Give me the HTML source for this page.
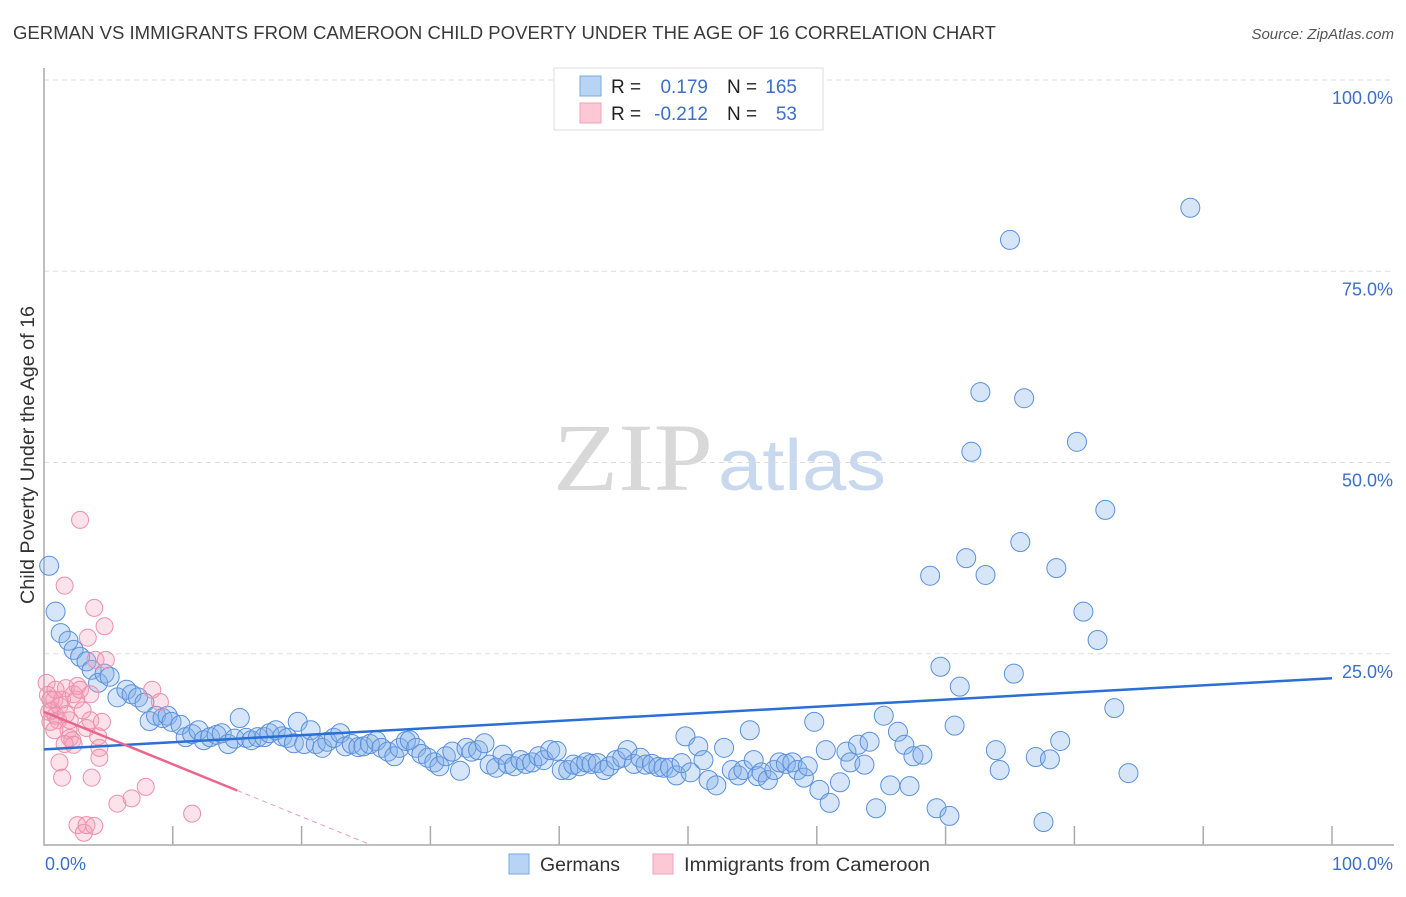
<!DOCTYPE html>
<html><head><meta charset="utf-8"><style>
body{margin:0;background:#fff;font-family:"Liberation Sans",sans-serif}
svg text{font-family:"Liberation Sans",sans-serif}
</style></head><body>
<svg id="chart" width="1406" height="892" viewBox="0 0 1406 892" xmlns="http://www.w3.org/2000/svg">
<text x="13" y="39" font-size="18" fill="#3a3a3a" textLength="983" lengthAdjust="spacingAndGlyphs">GERMAN VS IMMIGRANTS FROM CAMEROON CHILD POVERTY UNDER THE AGE OF 16 CORRELATION CHART</text>
<text x="1394" y="39" font-size="15" fill="#555" text-anchor="end" font-style="italic">Source: ZipAtlas.com</text>
<g>
<text x="553" y="490" font-size="96" fill="#d8d8d8" textLength="160" lengthAdjust="spacingAndGlyphs" style="font-family:'Liberation Serif',serif">ZIP</text>
<text x="718" y="490" font-size="72" fill="#c8d9ef" textLength="168" lengthAdjust="spacingAndGlyphs">atlas</text>
</g>
<g id="grid"></g>
<g id="axes"></g>
<g id="pts"></g>
<g id="lines"></g>
<text transform="translate(34,455) rotate(-90)" font-size="19" fill="#333" text-anchor="middle" textLength="298" lengthAdjust="spacingAndGlyphs">Child Poverty Under the Age of 16</text>
<g>
<rect x="554" y="68" width="269" height="62" fill="#fff" stroke="#ddd"/>
<rect x="580" y="76" width="21" height="20" fill="#b8d4f5" stroke="#7aa8e0"/>
<rect x="580" y="103" width="21" height="20" fill="#fcc8d6" stroke="#f0a0b8"/>
<text x="611" y="93" font-size="19" fill="#222">R =</text>
<text x="708" y="93" font-size="19" fill="#3b6fc9" text-anchor="end">0.179</text>
<text x="727" y="93" font-size="19" fill="#222">N =</text>
<text x="797" y="93" font-size="19" fill="#3b6fc9" text-anchor="end">165</text>
<text x="611" y="120" font-size="19" fill="#222">R =</text>
<text x="708" y="120" font-size="19" fill="#3b6fc9" text-anchor="end">-0.212</text>
<text x="727" y="120" font-size="19" fill="#222">N =</text>
<text x="797" y="120" font-size="19" fill="#3b6fc9" text-anchor="end">53</text>
</g>
<g>
<rect x="509" y="854" width="20" height="20" fill="#b8d4f5" stroke="#7aa8e0"/>
<text x="540" y="871" font-size="19" fill="#333" textLength="80" lengthAdjust="spacingAndGlyphs">Germans</text>
</g>
<g>
<rect x="653" y="854" width="20" height="20" fill="#fcc8d6" stroke="#f0a0b8"/>
<text x="684" y="871" font-size="19" fill="#333" textLength="246" lengthAdjust="spacingAndGlyphs">Immigrants from Cameroon</text>
</g>
</svg>
<script>
const blueX=[0.4,0.9,1.3,1.9,2.3,2.8,3.3,3.7,4.2,4.7,5.1,5.7,6.4,6.8,7.3,7.8,8.2,8.7,9.2,9.6,9.9,10.6,11.0,11.5,12.0,12.4,12.9,13.4,13.8,14.3,14.8,15.2,15.7,16.1,16.6,17.1,17.5,18.0,18.5,18.9,19.4,19.7,20.2,20.7,21.1,21.6,22.0,22.5,23.0,23.4,23.9,24.4,24.8,25.3,25.8,26.2,26.7,27.2,27.6,28.1,28.4,28.9,29.3,29.8,30.3,30.7,31.2,31.7,32.3,32.8,33.2,33.7,34.2,34.6,35.1,35.6,36.0,36.5,37.0,37.4,37.9,38.4,38.8,39.3,39.8,40.2,40.7,41.1,41.6,42.1,42.5,43.0,43.5,43.9,44.4,44.9,45.3,45.8,46.3,46.7,47.2,47.7,48.1,48.6,49.1,49.5,49.8,50.2,50.8,51.2,51.6,52.2,52.8,53.4,53.9,54.3,54.8,55.1,55.4,55.7,56.2,56.7,57.1,57.6,58.1,58.5,59.0,59.3,59.8,60.2,60.7,61.0,61.8,62.3,62.6,63.2,63.7,64.1,64.6,65.2,65.7,66.3,66.8,67.2,67.5,68.2,68.8,69.3,69.6,70.3,70.7,71.1,71.6,72.0,72.7,73.1,73.9,74.2,75.0,75.3,75.8,76.1,77.0,77.6,78.1,78.6,78.9,80.2,80.7,81.8,82.4,83.1,84.2,89.0];
const blueY=[36.5,30.5,27.7,26.7,25.5,24.6,24.0,22.9,21.2,22.4,22.0,19.3,20.3,19.7,19.3,18.6,16.2,16.9,16.6,16.9,16.1,15.7,14.1,14.5,15.0,13.7,14.1,14.4,14.6,13.2,13.9,16.6,14.0,13.7,14.1,14.1,14.6,15.0,14.2,14.0,13.3,16.1,13.2,15.0,13.2,12.7,13.5,14.0,14.6,12.9,13.2,12.8,12.9,13.2,13.6,12.7,12.2,11.6,12.7,13.6,13.7,12.7,11.9,11.4,10.8,10.3,11.6,12.2,9.7,12.7,12.2,12.4,13.3,10.5,10.1,11.8,10.6,10.3,11.1,10.6,10.8,11.6,11.1,12.4,12.3,9.8,9.8,10.5,10.3,10.8,10.6,10.7,9.8,10.3,11.1,11.4,12.4,10.6,11.4,10.5,10.6,10.2,10.1,10.1,9.1,10.7,14.2,9.5,12.9,11.1,8.5,7.8,12.7,9.8,9.1,9.8,15.0,11.1,9.0,9.5,8.5,9.8,10.8,10.6,10.8,9.8,8.8,10.3,16.1,7.2,12.4,5.5,8.2,12.2,10.8,13.1,10.5,13.5,4.8,16.9,7.8,14.8,13.1,7.7,11.6,11.8,35.2,4.8,23.3,3.8,15.6,20.7,37.5,51.4,59.2,35.3,12.4,9.8,79.1,22.4,39.6,58.4,11.5,3.0,11.2,36.2,13.6,52.7,30.5,26.8,43.8,17.9,9.4,83.3];
const pinkX=[0.2,0.3,0.4,0.5,0.6,0.8,0.9,1.1,1.2,1.4,1.6,1.7,1.9,2.0,2.2,2.3,2.5,2.6,2.8,3.0,3.3,3.4,3.6,3.7,3.9,4.0,4.2,4.3,4.3,4.5,4.7,4.8,2.6,3.1,3.3,3.9,5.7,6.8,7.9,8.4,9.0,11.5,1.2,1.4,0.9,2.0,2.3,1.7,2.8,3.6,0.8,1.6,0.5];
const pinkY=[21.2,19.6,17.4,16.1,17.6,19.0,16.9,16.3,18.2,19.0,33.9,20.5,15.0,14.0,13.7,19.7,19.0,20.8,42.5,17.6,15.3,27.1,16.3,8.8,31.0,24.2,14.2,12.7,11.4,16.1,28.6,24.2,2.6,1.6,2.6,2.5,5.4,6.1,7.6,20.3,18.7,4.1,10.8,8.8,20.3,16.3,13.1,17.1,20.3,19.7,15.0,13.2,19.0];
const blueTrend=[12.5,21.8];
const pinkTrend=[17.4,-0.685];
const yTicks=[25,50,75,100];
const yTickLabels=["25.0%","50.0%","75.0%","100.0%"];
const xTicks=[0,10,20,30,40,50,60,70,80,90,100];

const NS="http://www.w3.org/2000/svg";
const X0=44,X1=1332,Y0=845,Y1=80;
const sx=v=>X0+(X1-X0)*v/100, sy=v=>Y0-(Y0-Y1)*v/100;
function mk(t,a,p){const e=document.createElementNS(NS,t);for(const k in a)e.setAttribute(k,a[k]);p.appendChild(e);return e;}
const grid=document.getElementById('grid'),axes=document.getElementById('axes'),pts=document.getElementById('pts'),lines=document.getElementById('lines');
yTicks.forEach((v,i)=>{
 const g=mk('line',{x1:X0,x2:1394,y1:sy(v),y2:sy(v),stroke:'#ddd','stroke-dasharray':'5,4'},grid);
 
 
 const t=mk('text',{x:1393,y:sy(v)+24,'font-size':18,fill:'#3b6fc9','text-anchor':'end'},axes);
 t.textContent=yTickLabels[i];
 
 
});
const ax=mk('path',{d:`M${X0},68V${Y0}H1394`,stroke:'#aaa',fill:'none','stroke-width':1.5},axes);


xTicks.slice(1).forEach(v=>{
 const l=mk('line',{x1:sx(v),x2:sx(v),y1:Y0,y2:Y0-19,stroke:'#aaa','stroke-width':1.5},axes);
 
 
});
const xl=mk('text',{x:45,y:870,'font-size':18,fill:'#3b6fc9'},axes);xl.textContent='0.0%';


const xr=mk('text',{x:1393,y:870,'font-size':18,fill:'#3b6fc9','text-anchor':'end'},axes);xr.textContent='100.0%';


blueX.forEach((x,i)=>{
 const c=mk('circle',{cx:sx(x),cy:sy(blueY[i]),r:9.5,fill:'rgba(130,175,235,0.33)',stroke:'#5a90dc','stroke-width':1},pts);
 
 
});
pinkX.forEach((x,i)=>{
 const c=mk('circle',{cx:sx(x),cy:sy(pinkY[i]),r:8.5,fill:'rgba(245,160,185,0.3)',stroke:'#ec8fab','stroke-width':1},pts);
 
 
});
const bl=mk('line',{x1:sx(0),y1:sy(blueTrend[0]),x2:sx(100),y2:sy(blueTrend[1]),stroke:'#2a6fd6','stroke-width':2.5},lines);


const pEnd=15, pZero=-pinkTrend[0]/pinkTrend[1];
const pl=mk('line',{x1:sx(0),y1:sy(pinkTrend[0]),x2:sx(pEnd),y2:sy(pinkTrend[0]+pinkTrend[1]*pEnd),stroke:'#e8668e','stroke-width':2.5},lines);


const pd=mk('line',{x1:sx(pEnd),y1:sy(pinkTrend[0]+pinkTrend[1]*pEnd),x2:sx(pZero),y2:sy(0),stroke:'#e8a0b6','stroke-width':1,'stroke-dasharray':'5,4'},lines);


</script>
</body></html>
